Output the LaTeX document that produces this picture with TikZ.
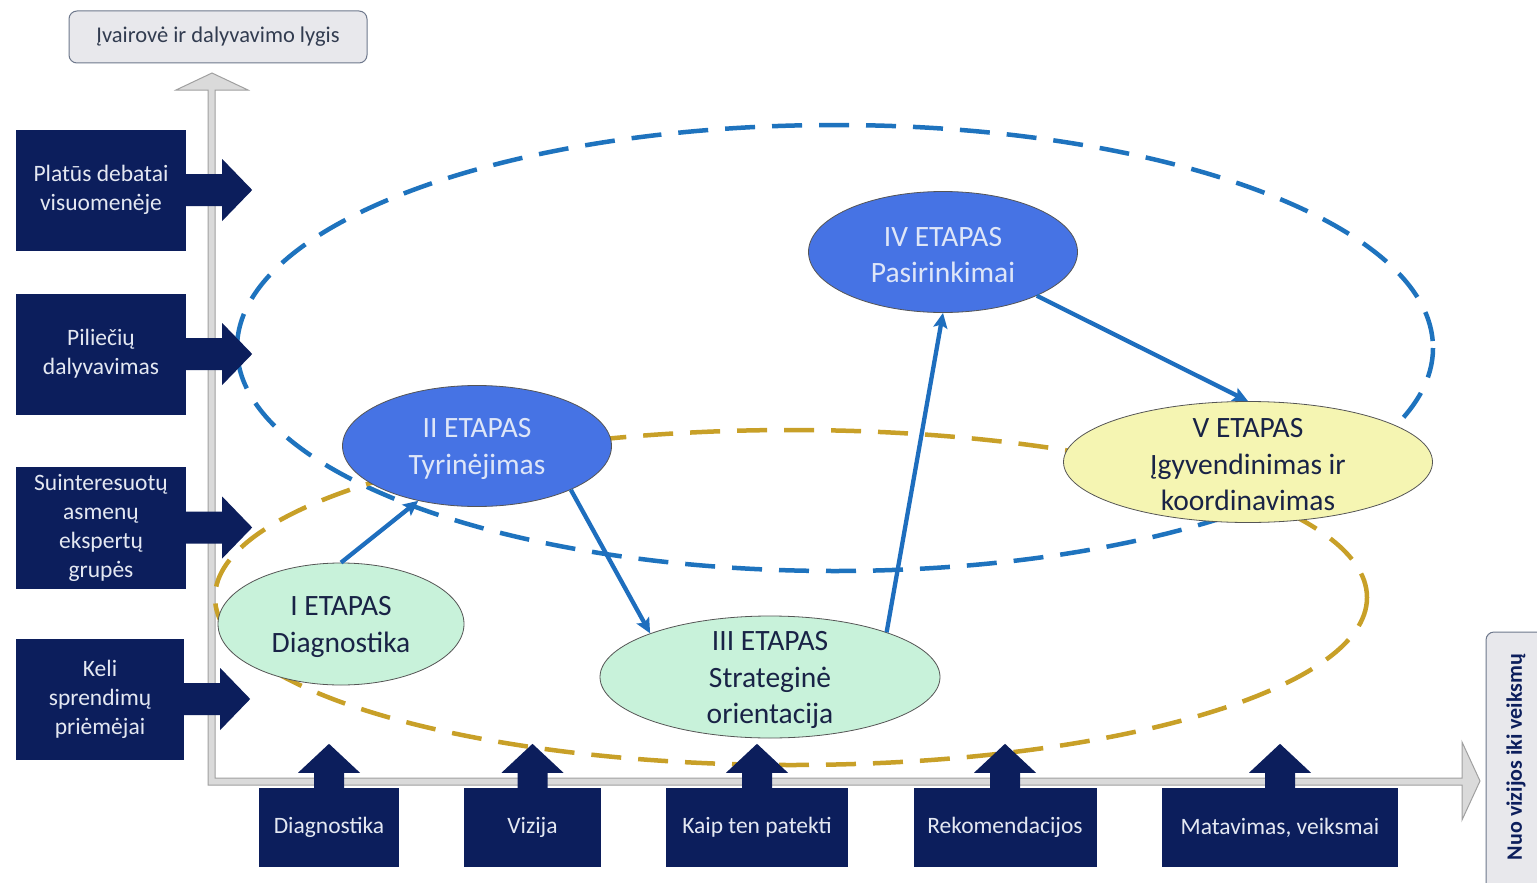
\documentclass[tikz,border=0pt]{standalone}
\usepackage{fontspec}
\setmainfont{Carlito}
\usetikzlibrary{arrows.meta,shapes.geometric,calc}
\definecolor{navy}{RGB}{12,30,92}
\definecolor{boxtext}{RGB}{228,232,242}
\definecolor{axisfill}{RGB}{218,218,218}
\definecolor{axisdraw}{RGB}{160,160,160}
\definecolor{bluedash}{RGB}{30,115,190}
\definecolor{golddash}{RGB}{200,160,40}
\definecolor{flowblue}{RGB}{30,110,190}
\definecolor{stageblue}{RGB}{70,115,228}
\definecolor{stagebluetext}{RGB}{222,230,248}
\definecolor{mint}{RGB}{200,242,218}
\definecolor{paleyellow}{RGB}{245,245,178}
\definecolor{darktext}{RGB}{25,35,70}
\definecolor{stageborder}{RGB}{85,85,85}
\definecolor{labelfill}{RGB}{232,232,236}
\definecolor{labeldraw}{RGB}{110,120,140}
\definecolor{labeltext}{RGB}{50,60,80}
\begin{document}
\begin{tikzpicture}[x=1pt,y=-1pt,
  navybox/.style={fill=navy,text=boxtext,align=center,inner sep=0pt,
    font=\fontsize{23.5}{29}\selectfont},
  stage/.style={ellipse,draw=stageborder,line width=0.8pt,inner sep=0pt},
  stagetxt/.style={align=center,yshift=-3pt,font=\fontsize{29.5}{36.5}\selectfont},
  flow/.style={draw=flowblue,line width=4.3pt,-{Stealth[length=15pt,width=14pt,inset=3pt]}},
  dashring/.style={line width=4.5pt,dash pattern=on 30pt off 17pt}
]
\useasboundingbox (0,0) rectangle (1537,883);
\fill[white] (0,0) rectangle (1537,883);

% axes
\filldraw[fill=axisfill,draw=axisdraw,line width=1pt]
  (208,90) -- (176,90) -- (212,73) -- (248,90) -- (215,90) -- (215,778)
  -- (1462,778) -- (1462,742) -- (1480,781) -- (1462,820) -- (1462,785)
  -- (208,785) -- cycle;

% top label
\node[draw=labeldraw,fill=labelfill,line width=1pt,rounded corners=8pt,
  minimum width=298pt,minimum height=52pt,inner sep=0pt,text=labeltext,
  font=\fontsize{22.5}{27}\selectfont] (top) at (218,37) {Įvairovė ir dalyvavimo lygis};

% right label
\draw[draw=labeldraw,fill=labelfill,line width=1pt,rounded corners=8pt]
  (1486,632) rectangle (1570,910);
\node[rotate=90,text=navy,font=\fontsize{22}{26}\selectfont\bfseries,inner sep=0pt]
  (right) at (1516,757) {Nuo vizijos iki veiksmų};

% dashed rings
\draw[dashring,draw=bluedash] (835,348) ellipse [x radius=598, y radius=223];
\draw[dashring,draw=golddash] (791,597.5) ellipse [x radius=576, y radius=167.5];

% left boxes
\node[navybox,minimum width=170pt,minimum height=121pt] (l1) at (101,190) {Platūs debatai\\visuomenėje};
\node[navybox,minimum width=170pt,minimum height=121pt] (l2) at (101,354) {Piliečių\\dalyvavimas};
\node[navybox,minimum width=170pt,minimum height=122pt] (l3) at (101,527.5) {Suinteresuotų\\asmenų\\ekspertų\\grupės};
\node[navybox,minimum width=168pt,minimum height=121pt] (l4) at (100,699) {Keli\\sprendimų\\priėmėjai};
\foreach \n in {l1,l2,l3,l4}{
  \fill[navy] ($(\n.east)+(-2pt,16pt)$) -- ++(38pt,0pt) -- ++(0pt,15pt)
    -- ++(30pt,-31pt) -- ++(-30pt,-31pt) -- ++(0pt,15pt) -- ++(-38pt,0pt) -- cycle;
}

% bottom boxes
\node[navybox,minimum width=140pt,minimum height=79pt] (b1) at (329,827.5) {Diagnostika};
\node[navybox,minimum width=137pt,minimum height=79pt] (b2) at (532.5,827.5) {Vizija};
\node[navybox,minimum width=182pt,minimum height=79pt] (b3) at (757,827.5) {Kaip ten patekti};
\node[navybox,minimum width=183pt,minimum height=79pt] (b4) at (1005,827.5) {Rekomendacijos};
\node[navybox,minimum width=236pt,minimum height=79pt] (b5) at (1280,827.5) {Matavimas, veiksmai};
\foreach \n in {b1,b2,b3,b4,b5}{
  \fill[navy] ($(\n.north)+(-15pt,-2pt)$) -- ++(0pt,17pt) -- ++(-16pt,0pt)
    -- ++(31pt,29pt) -- ++(31pt,-29pt) -- ++(-16pt,0pt) -- ++(0pt,-17pt) -- cycle;
}

% stages
\node[stage,fill=mint,minimum width=246pt,minimum height=122pt,
  label={[stagetxt,text=darktext]center:{I ETAPAS\\Diagnostika}}] (s1) at (341,624) {};
\node[stage,fill=stageblue,minimum width=269pt,minimum height=121pt,
  label={[stagetxt,text=stagebluetext]center:{II ETAPAS\\Tyrinėjimas}}] (s2) at (477,446) {};
\node[stage,fill=mint,minimum width=340pt,minimum height=122pt,
  label={[stagetxt,text=darktext]center:{III ETAPAS\\Strateginė\\orientacija}}] (s3) at (770,677) {};
\node[stage,fill=stageblue,minimum width=269pt,minimum height=121pt,
  label={[stagetxt,text=stagebluetext]center:{IV ETAPAS\\Pasirinkimai}}] (s4) at (943,252) {};
\node[stage,fill=paleyellow,minimum width=369pt,minimum height=121pt,
  label={[stagetxt,text=darktext]center:{V ETAPAS\\Įgyvendinimas ir\\koordinavimas}}] (s5) at (1248,462) {};

% flow arrows
\draw[flow] (s1.90) -- (s2.223);
\draw[flow] (s2.-25) -- (s3.160);
\draw[flow] (s3.21) -- (s4.270);
\draw[flow] (s4.-25) -- (s5.90);
\end{tikzpicture}
\end{document}
